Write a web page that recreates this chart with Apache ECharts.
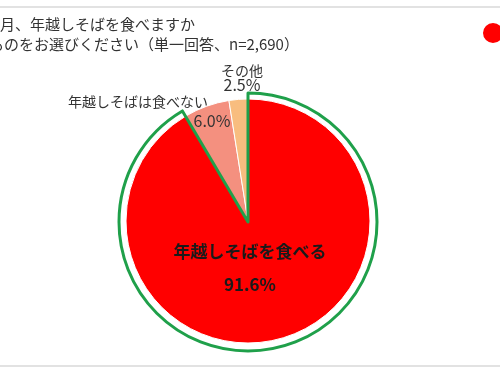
<!DOCTYPE html>
<html><head><meta charset="utf-8">
<script src="https://cdn.jsdelivr.net/npm/echarts@6/dist/echarts.min.js"></script>
<style>html,body{margin:0;padding:0;background:#fff;overflow:hidden}#c{width:500px;height:375px}</style>
</head><body><div id="c"></div>
<script>
// ---- data ----
const categories = ['年越しそばを食べる', '年越しそばは食べない', 'その他'];
const values = [91.6, 6.0, 2.5];
const titleLines = ['月、年越しそばを食べますか', 'ものをお選びください（単一回答、n=2,690）'];

// ---- style ----
const colors = ['#ff0000', '#f4907f', '#f8bd7f'];
const green = '#1fa04a';
const FONT = '"Noto Sans CJK JP", "Noto Sans", sans-serif';
const center = [248, 221];
const R = 122;
const RG = 129;
// label anchors relative to pie centre (px)
const innerLabelOffset = [[2, 47], [-36, -100], null];
const outerLabelOffset = [null, [-110, -119], [-6, -143]];

const pct = v => v.toFixed(1) + '%';

const chart = echarts.init(document.getElementById('c'), null, {renderer: 'canvas'});

const mainData = categories.map((name, i) => {
  const item = {name, value: values[i], itemStyle: {color: colors[i]}};
  if (i === 0) {
    item.label = {show: true, formatter: '{n|{b}}\n{v|' + pct(values[i]) + '}'};
  } else if (i === 1) {
    item.label = {show: true, formatter: '{p|' + pct(values[i]) + '}'};
  } else {
    item.label = {show: false};
  }
  return item;
});

const outlineData = categories.map((name, i) => {
  if (i === 0) {
    return {name, value: values[i], itemStyle: {color: 'rgba(0,0,0,0)', borderColor: green, borderWidth: 3}, label: {show: false}};
  }
  return {
    name, value: values[i],
    itemStyle: {color: 'rgba(0,0,0,0)', borderWidth: 0},
    label: {show: true, formatter: i === 2 ? '{o|{b}}\n{q|' + pct(values[i]) + '}' : '{o|{b}}'}
  };
});

function layoutFor(offsets) {
  return function (p) {
    const off = offsets[p.dataIndex];
    if (!off) return {};
    return {x: center[0] + off[0], y: center[1] + off[1], align: 'center', verticalAlign: 'middle'};
  };
}

chart.setOption({
  animation: false,
  backgroundColor: '#fff',
  title: [
    {text: titleLines[0], left: 0, top: 17, padding: 0, textStyle: {fontFamily: FONT, fontSize: 15, fontWeight: 'normal', color: '#333'}},
    {text: titleLines[1], left: -11, top: 37, padding: 0, textStyle: {fontFamily: FONT, fontSize: 15, fontWeight: 'normal', color: '#333'}}
  ],
  legend: {
    data: [categories[0]],
    left: 481, top: 21, padding: 0,
    icon: 'circle', itemWidth: 22, itemHeight: 22,
    selectedMode: false,
    textStyle: {fontFamily: FONT, fontSize: 15, color: '#333'}
  },
  graphic: [
    {type: 'line', shape: {x1: 0, y1: 7, x2: 500, y2: 7}, style: {stroke: '#d9d9d9', lineWidth: 1.5}, silent: true},
    {type: 'line', shape: {x1: 0, y1: 366, x2: 500, y2: 366}, style: {stroke: '#d9d9d9', lineWidth: 1.5}, silent: true}
  ],
  series: [
    {
      type: 'pie', name: 'main',
      center: center, radius: R,
      startAngle: 90, clockwise: true,
      avoidLabelOverlap: false,
      silent: true,
      itemStyle: {borderColor: '#fff', borderWidth: 1},
      label: {
        position: 'inside',
        fontFamily: FONT,
        rich: {
          n: {fontFamily: FONT, fontSize: 17, fontWeight: 'bold', color: '#1a1a1a', lineHeight: 33, align: 'center'},
          v: {fontFamily: FONT, fontSize: 17, fontWeight: 'bold', color: '#1a1a1a', lineHeight: 33, align: 'center'},
          p: {fontFamily: FONT, fontSize: 16, color: '#333', align: 'center'}
        }
      },
      labelLine: {show: false},
      labelLayout: layoutFor(innerLabelOffset),
      data: mainData,
      z: 2
    },
    {
      type: 'pie', name: 'outline',
      center: [center[0], center[1] + 1], radius: RG,
      startAngle: 90, clockwise: true,
      avoidLabelOverlap: false,
      silent: true,
      label: {
        position: 'inside',
        rich: {
          o: {fontFamily: FONT, fontSize: 14, color: '#333', lineHeight: 14, align: 'center'},
          q: {fontFamily: FONT, fontSize: 16, color: '#333', lineHeight: 15, align: 'center'}
        }
      },
      labelLine: {show: false},
      labelLayout: layoutFor(outerLabelOffset),
      data: outlineData,
      z: 3
    }
  ]
});
</script>
</body></html>
